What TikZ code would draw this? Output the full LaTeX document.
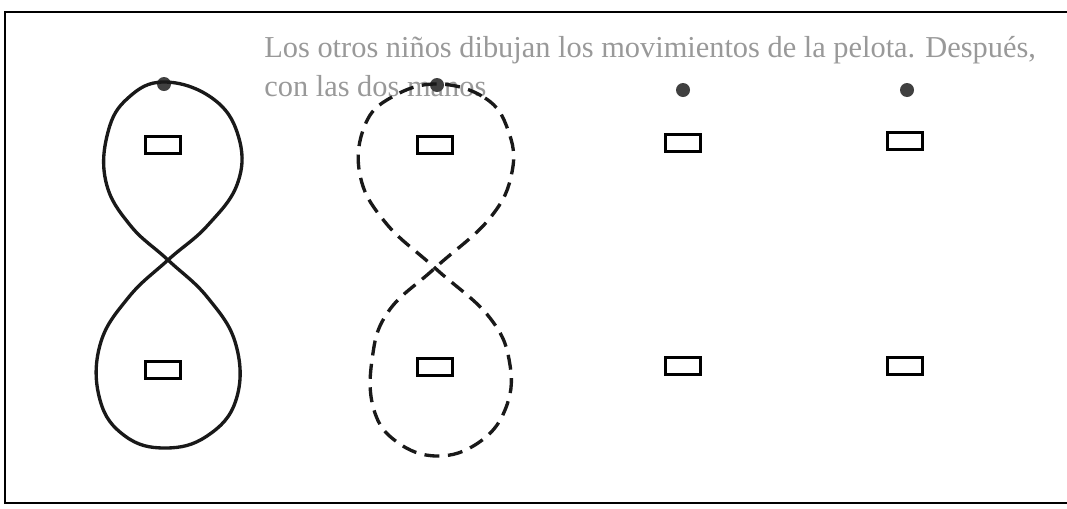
\documentclass[tikz,border=0pt]{standalone}
\usepackage{fontspec}
\setmainfont{Liberation Serif}
\usepackage{tikz}

\begin{document}
\begin{tikzpicture}[x=0.02cm,y=-0.02cm]
  \tikzset{
    ball/.style={circle,fill=black!75,inner sep=0pt,minimum size=0.28cm},
    hand/.style={rectangle,draw=black,line width=2pt,minimum width=0.7cm,
                 minimum height=0.34cm,inner sep=0pt},
    loop8/.style={line width=1.9pt,black!90},
    ghost/.style={text=black!40,anchor=west,inner sep=0pt,font=\fontsize{17.3}{20}\selectfont}}
  \useasboundingbox (0,0) rectangle (1067,508);
  % frame of the page
  \draw[line width=1.6pt] (1067,12)--(5,12)--(5,503)--(1067,503);
  \node[ghost] (line1) at (264,50){Los otros niños dibujan los movimientos de la pelota. Después,};
  \node[ghost] (line2) at (264,86){con las dos manos};
  % balls and hands
  \foreach \x/\y/\n in {164/84/a,437/85/b,683/90/c,907/90/d}
    \node[ball] (ball\n) at (\x,\y){};
  \foreach \x/\ya/\yb/\n in {163/145/370/a,435/145/367/b,683/143/366/c,905/141/366/d}{
    \node[hand] (top\n) at (\x,\ya){};
    \node[hand] (bot\n) at (\x,\yb){};}
  % figure eights
  \draw[loop8] plot[smooth cycle,tension=0.7] coordinates {
    (164,82) (212,98) (238,135) (238,182) (208,225) (168,260) (128,298)
    (100,345) (100,400) (125,436) (165,448) (207,436) (236,400) (236,345)
    (208,298) (168,260) (130,225) (106,182) (108,132) (128,98)};
  \draw[loop8,dash pattern=on 0.3cm off 0.17cm] plot[smooth cycle,tension=0.7] coordinates {
    (437,84) (485,98) (508,130) (512,172) (490,218) (435,268) (388,312)
    (372,360) (374,410) (397,442) (437,456) (478,443) (505,410) (510,365)
    (490,318) (435,268) (385,222) (360,175) (365,125) (392,97)};
\end{tikzpicture}
\end{document}
